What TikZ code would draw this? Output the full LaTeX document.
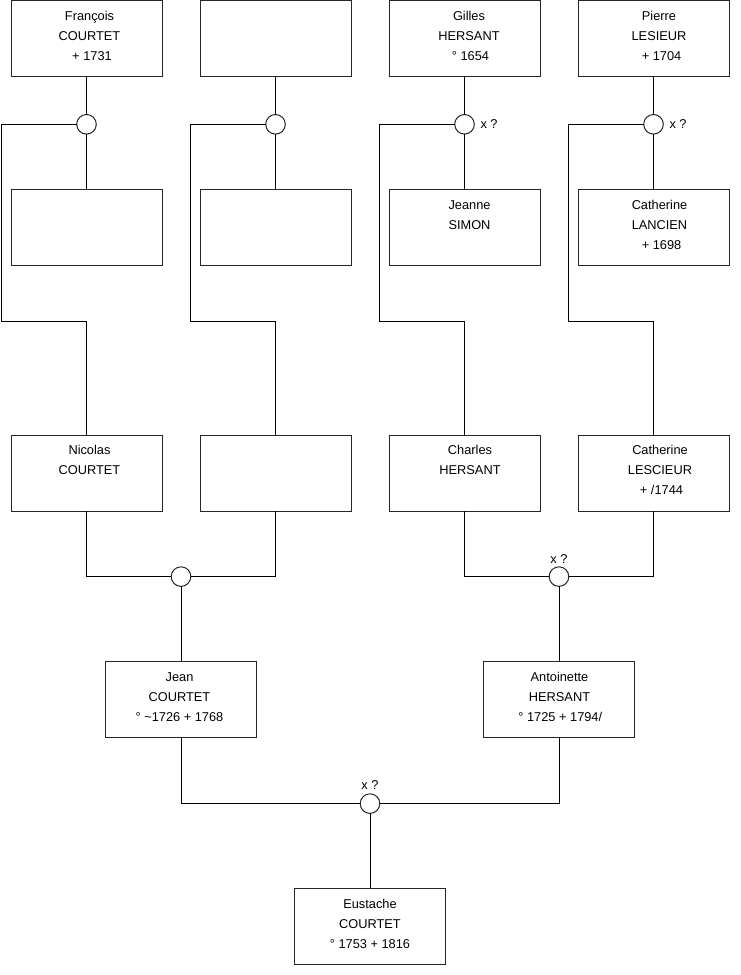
\documentclass[tikz,border=0pt]{standalone}
\usepackage{fontspec}
\setmainfont{Liberation Sans}
\usetikzlibrary{calc}
\newcommand\pline[2]{\hbox to 151pt{\hss\kern\dimexpr#1\relax\kern\dimexpr#1\relax\smash{#2}\hss}}
\newcommand\pbox[5]{\vbox to 76pt{\offinterlineskip\vskip19.8pt\pline{#1}{#2}\vskip20pt\pline{#1}{#3}\vskip20pt\pline{#1+#5}{#4}\vss}}
\tikzset{
  person/.style={draw=black!85, fill=white, inner sep=0pt, outer sep=0pt, line width=1pt,
    font=\fontsize{12.8}{20}\selectfont},
  knot/.style={circle, draw=black!85, fill=white, minimum size=19.6pt, inner sep=0pt, outer sep=0pt, line width=1pt},
  lnk/.style={draw=black, line width=1pt},
  xq/.style={inner sep=0pt, font=\fontsize{12.8}{15}\selectfont}
}
\begin{document}
\begin{tikzpicture}[x=1pt, y=-1pt]
\useasboundingbox[fill=white] (0,0) rectangle (740,975);
% row 1
\node[person] (b11) at (86.5,38.3) {\pbox{3pt}{François}{COURTET}{+ 1731}{2.5pt}};
\node[person] (b12) at (275.5,38.3) {\pbox{0pt}{}{}{}{0pt}};
\node[person] (b13) at (464.5,38.3) {\pbox{4.5pt}{Gilles}{HERSANT}{° 1654}{1.5pt}};
\node[person] (b14) at (653.5,38.3) {\pbox{5.5pt}{Pierre}{LESIEUR}{+ 1704}{2.5pt}};
% circles row 1
\node[knot] (c1) at (86.5,124.3) {};
\node[knot] (c2) at (275.5,124.3) {};
\node[knot] (c3) at (464.5,124.3) {};
\node[knot] (c4) at (653.5,124.3) {};
% row 2
\node[person] (b21) at (86.5,227.3) {\pbox{0pt}{}{}{}{0pt}};
\node[person] (b22) at (275.5,227.3) {\pbox{0pt}{}{}{}{0pt}};
\node[person] (b23) at (464.5,227.3) {\pbox{5pt}{Jeanne}{SIMON}{}{0pt}};
\node[person] (b24) at (653.5,227.3) {\pbox{6pt}{Catherine}{LANCIEN}{+ 1698}{2pt}};
% row 3
\node[person] (b31) at (86.5,473) {\pbox{3pt}{Nicolas}{COURTET}{}{0pt}};
\node[person] (b32) at (275.5,473) {\pbox{0pt}{}{}{}{0pt}};
\node[person] (b33) at (464.5,473) {\pbox{5.5pt}{Charles}{HERSANT}{}{0pt}};
\node[person] (b34) at (653.5,473) {\pbox{6.5pt}{Catherine}{LESCIEUR}{+ /1744}{1.5pt}};
% circles row 3
\node[knot] (c5) at (181,576.6) {};
\node[knot] (c6) at (559,576.6) {};
% row 4
\node[person] (b41) at (181,699.3) {\pbox{-1.5pt}{Jean}{COURTET}{° \textasciitilde1726 + 1768}{0pt}};
\node[person] (b42) at (559,699.3) {\pbox{0.5pt}{Antoinette}{HERSANT}{° 1725 + 1794/}{0.8pt}};
% bottom circle
\node[knot] (c7) at (370,803.6) {};
% row 5
\node[person] (b5) at (370,926.2) {\pbox{0pt}{Eustache}{COURTET}{° 1753 + 1816}{0pt}};
% labels
\node[xq, anchor=base west] (x3) at ([xshift=6pt,yshift=-4.2pt]c3.east) {x ?};
\node[xq, anchor=base west] (x4) at ([xshift=6pt,yshift=-4.2pt]c4.east) {x ?};
\node[xq, anchor=base] (x6) at ([yshift=3.5pt]c6.north) {x ?};
\node[xq, anchor=base] (x7) at ([yshift=4.5pt]c7.north) {x ?};
% elbow coordinates
\coordinate (k1) at (1.5,321.7);
\coordinate (k2) at (190,321.7);
\coordinate (k3) at (379.5,321.7);
\coordinate (k4) at (568.5,321.7);
% connectors
\foreach \i in {1,2,3,4}{
  \draw[lnk] (b1\i.south) -- (c\i.north);
  \draw[lnk] (c\i.south) -- (b2\i.north);
  \draw[lnk] (c\i.west) -| (k\i) -| (b3\i.north);
}
\draw[lnk] (b31.south) |- (c5.west);
\draw[lnk] (b32.south) |- (c5.east);
\draw[lnk] (c5.south) -- (b41.north);
\draw[lnk] (b33.south) |- (c6.west);
\draw[lnk] (b34.south) |- (c6.east);
\draw[lnk] (c6.south) -- (b42.north);
\draw[lnk] (b41.south) |- (c7.west);
\draw[lnk] (b42.south) |- (c7.east);
\draw[lnk] (c7.south) -- (b5.north);
\end{tikzpicture}
\end{document}
